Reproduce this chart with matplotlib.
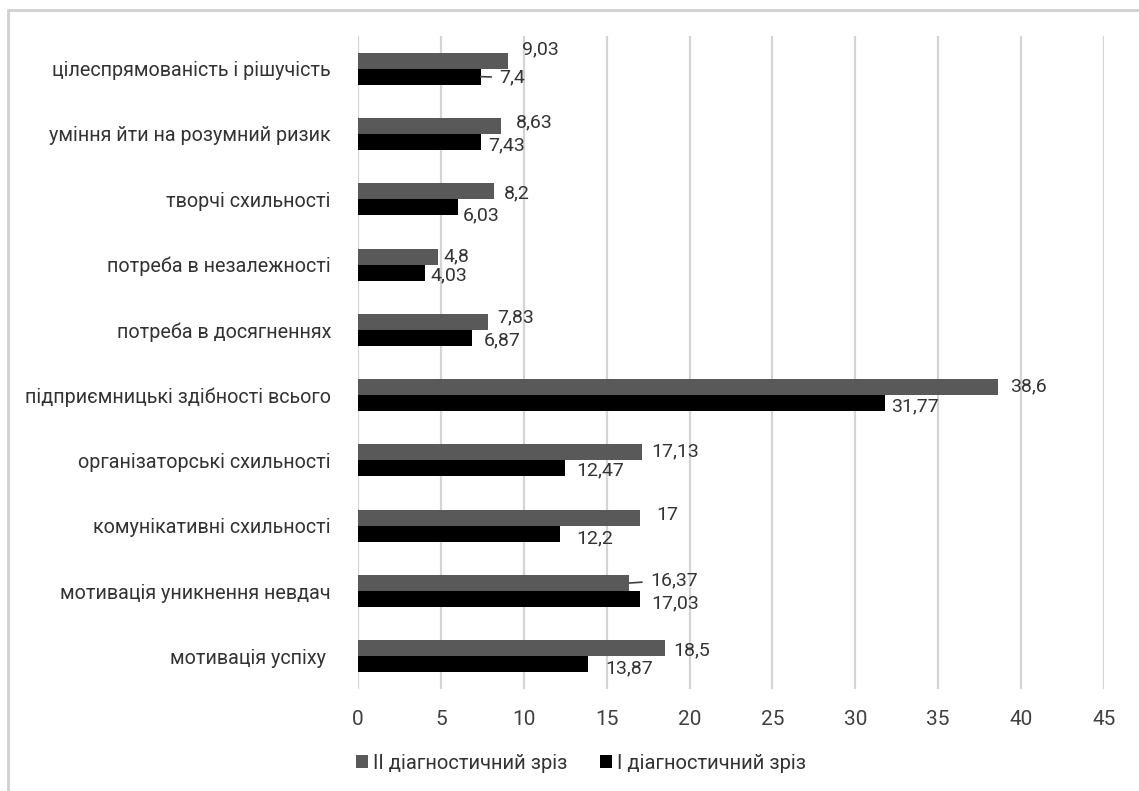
import matplotlib
matplotlib.use("Agg")
import matplotlib.pyplot as plt
from matplotlib.patches import Rectangle
import numpy as np

plt.rcParams['font.family'] = ['Roboto', 'DejaVu Sans']

# categories, top to bottom
categories = [
    "цілеспрямованість і рішучість",
    "уміння йти на розумний ризик",
    "творчі схильності",
    "потреба в незалежності",
    "потреба в досягненнях",
    "підприємницькі здібності всього",
    "організаторські схильності",
    "комунікативні схильності",
    "мотивація уникнення невдач",
    "мотивація успіху ",
]
series_names = ["II діагностичний зріз", "I діагностичний зріз"]
values_ii = [9.03, 8.63, 8.2, 4.8, 7.83, 38.6, 17.13, 17.0, 16.37, 18.5]
values_i = [7.4, 7.43, 6.03, 4.03, 6.87, 31.77, 12.47, 12.2, 17.03, 13.87]

# label offsets (pixels) from bar end, to mimic the staggered labels
off_ii = [(14, 11), (15, 4), (10, -2), (6, 0), (9, 4), (12, 1), (9, 1), (16, 3), (21, 3), (9, -2)]
off_i = [(19, -1), (7, -3), (5, -8), (6, -3), (12, -3), (6, -3), (12, -2), (16, -5), (11, -4), (17, -4)]
leader_ii = [False, False, False, False, False, False, False, False, True, False]
leader_i = [True, False, False, False, False, False, False, False, False, False]

def fmt(v):
    s = "{:.2f}".format(v).rstrip("0").rstrip(".")
    return s.replace(".", ",")

fig = plt.figure(figsize=(11.39, 7.91), dpi=100)
ax = fig.add_axes([0.3143, 0.129, 0.9693 - 0.3143, 0.9545 - 0.129])

y = np.arange(len(categories))
h = 0.245
gray = "#595959"
ax.barh(y - h / 2, values_ii, height=h, color=gray, label=series_names[0], zorder=3)
ax.barh(y + h / 2, values_i, height=h, color="#000000", label=series_names[1], zorder=3)

for lst, yy, offs, leads in [(values_ii, y - h / 2, off_ii, leader_ii),
                             (values_i, y + h / 2, off_i, leader_i)]:
    for v, yc, (dx, dy), lead in zip(lst, yy, offs, leads):
        kw = {}
        if lead:
            kw["arrowprops"] = dict(arrowstyle="-", color="#404040", lw=1.2, shrinkA=4, shrinkB=0)
        ax.annotate(fmt(v), xy=(v, yc), xytext=(dx, dy), textcoords="offset pixels",
                    ha="left", va="center", fontsize=14, color="#333333", **kw)

ax.set_xlim(0, 45)
ax.set_ylim(len(categories) - 0.5, -0.5)
ax.set_xticks(np.arange(0, 50, 5))
ax.set_yticks(y)
ax.set_yticklabels(categories, fontsize=14.2, color="#333333")
ax.tick_params(axis="x", labelsize=15, colors="#404040", length=0, pad=15)
ax.tick_params(axis="y", length=0, pad=19.5)
ax.grid(axis="x", color="#d4d4d4", lw=1.6, zorder=0)
for s in ax.spines.values():
    s.set_visible(False)

fig.legend(loc="center", bbox_to_anchor=(0.51, 0.035), ncol=2, frameon=False,
           fontsize=14.5, handlelength=0.6, handleheight=0.6, handletextpad=0.25,
           columnspacing=1.6, labelcolor="#333333")

fig.patches.append(Rectangle((8 / 1139, -0.1), 1.2, 1 - 10 / 791 + 0.1,
                             transform=fig.transFigure, fill=False,
                             edgecolor="#d0d0d0", lw=2))

plt.savefig("out.png")
